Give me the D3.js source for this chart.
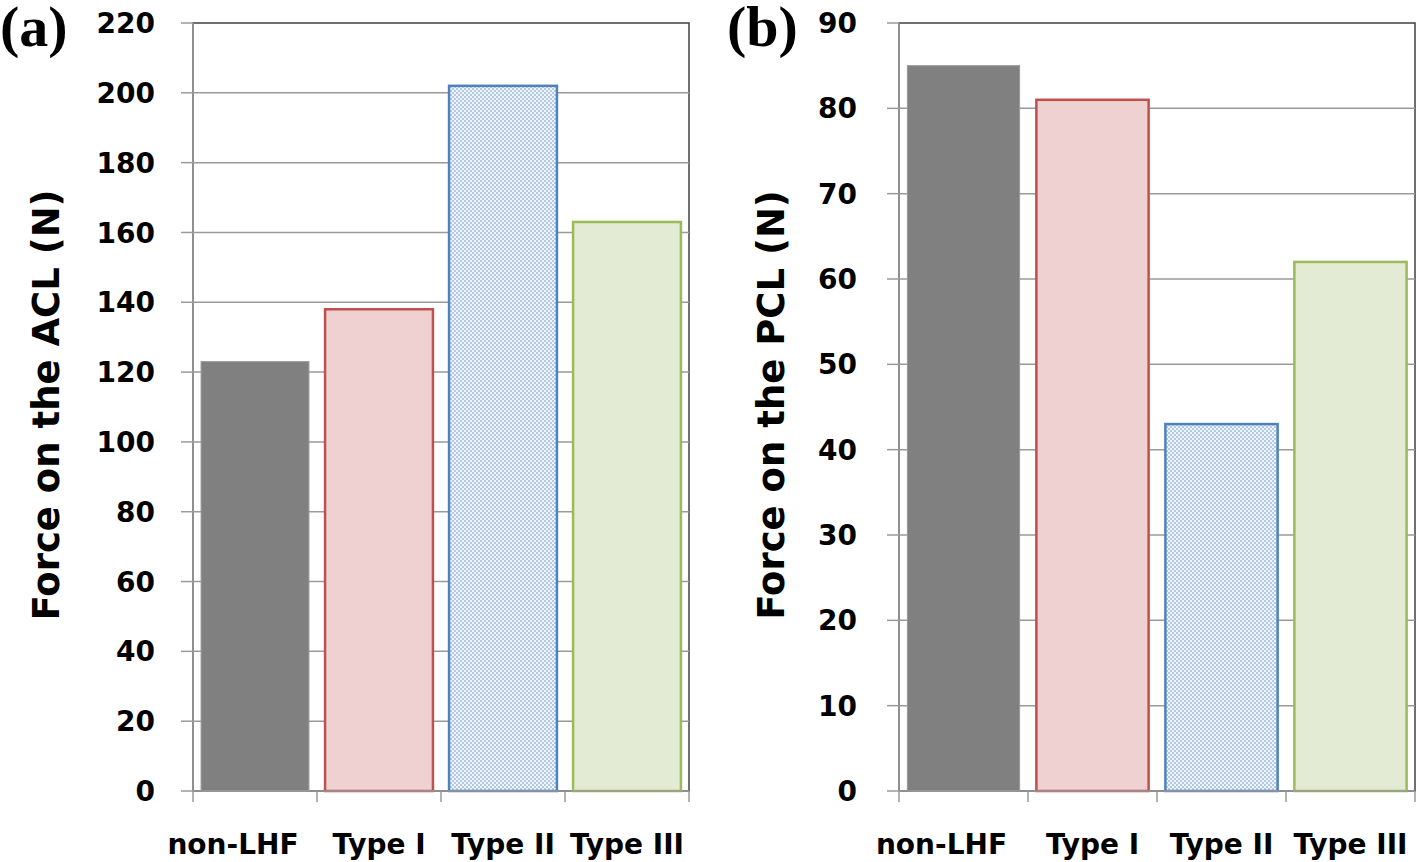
<!DOCTYPE html>
<meta charset="utf-8">
<head>
<style>
  body { margin: 0; background: #fff; }
  svg text { font-family: "DejaVu Sans", sans-serif; font-weight: bold; fill: #000; }
  .panel-tag { font-family: "Liberation Serif", "Times New Roman", serif; }
</style>
<script src="https://d3js.org/d3.v7.min.js"></script>
</head>
<body>
<svg id="chart" width="1418" height="862"></svg>
<script>
var categories = ["non-LHF", "Type I", "Type II", "Type III"];
var aclForce = [123, 138, 202, 163];
var pclForce = [85, 81, 43, 62];
var aclTicks = [0, 20, 40, 60, 80, 100, 120, 140, 160, 180, 200, 220];
var pclTicks = [0, 10, 20, 30, 40, 50, 60, 70, 80, 90];

var barFill = ["#808080", "#f0d1d2", "url(#check)", "#e3ebd4"];
var barStroke = ["#999999", "#c0504d", "#4f81bd", "#9bbb59"];
var barStrokeW = [1, 2.5, 2.5, 2.5];

var svg = d3.select("#chart");

// checker pattern for Type II
var pat = svg.append("defs").append("pattern")
    .attr("id", "check").attr("patternUnits", "userSpaceOnUse")
    .attr("width", 4).attr("height", 4);
pat.append("rect").attr("width", 4).attr("height", 4).attr("fill", "#f0f4fb");
pat.append("rect").attr("width", 2).attr("height", 2).attr("fill", "#b3c9e8");
pat.append("rect").attr("x", 2).attr("y", 2).attr("width", 2).attr("height", 2).attr("fill", "#b3c9e8");

var plotTop = 23, plotBottom = 791;

function drawPanel(opt) {
    var x = d3.scaleBand().domain(categories).range([opt.left, opt.right])
        .paddingInner(0.13).paddingOuter(0.065);
    var y = d3.scaleLinear().domain([0, opt.max]).range([plotBottom, plotTop]);
    var g = svg.append("g");

    // plot outline (top and right show dark)
    g.append("rect")
        .attr("x", opt.left).attr("y", plotTop)
        .attr("width", opt.right - opt.left).attr("height", plotBottom - plotTop)
        .attr("fill", "none").attr("stroke", "#404040").attr("stroke-width", 1.5);

    // gridlines + y ticks
    g.selectAll(".grid").data(opt.ticks.filter(function (d) { return d > 0 && d < opt.max; }))
        .enter().append("line")
        .attr("x1", opt.left).attr("x2", opt.right)
        .attr("y1", function (d) { return y(d); }).attr("y2", function (d) { return y(d); })
        .attr("stroke", "#9a9a9a").attr("stroke-width", 1.5);

    g.selectAll(".ytick").data(opt.ticks).enter().append("line")
        .attr("x1", opt.left - 12).attr("x2", opt.left)
        .attr("y1", function (d) { return y(d); }).attr("y2", function (d) { return y(d); })
        .attr("stroke", "#9a9a9a").attr("stroke-width", 1.5);

    g.selectAll(".ylab").data(opt.ticks).enter().append("text")
        .attr("x", opt.left - opt.labelGap)
        .attr("y", function (d) { return y(d); })
        .attr("dy", "0.36em")
        .attr("text-anchor", "end")
        .style("font-size", "28px")
        .text(function (d) { return d; });

    // bars
    g.selectAll(".bar").data(opt.values).enter().append("rect")
        .attr("x", function (d, i) { return x(categories[i]); })
        .attr("y", function (d) { return y(d); })
        .attr("width", x.bandwidth())
        .attr("height", function (d) { return y(0) - y(d); })
        .attr("fill", function (d, i) { return barFill[i]; })
        .attr("stroke", function (d, i) { return barStroke[i]; })
        .attr("stroke-width", function (d, i) { return barStrokeW[i]; });

    // axes
    g.append("line").attr("x1", opt.left).attr("x2", opt.left)
        .attr("y1", plotTop).attr("y2", plotBottom)
        .attr("stroke", "#9a9a9a").attr("stroke-width", 1.5);
    g.append("line").attr("x1", opt.left).attr("x2", opt.right)
        .attr("y1", plotBottom).attr("y2", plotBottom)
        .attr("stroke", "#9a9a9a").attr("stroke-width", 1.5);

    var n = categories.length;
    var edges = d3.range(n + 1).map(function (i) { return opt.left + i * (opt.right - opt.left) / n; });
    g.selectAll(".xtick").data(edges).enter().append("line")
        .attr("x1", function (d) { return d; }).attr("x2", function (d) { return d; })
        .attr("y1", plotBottom).attr("y2", plotBottom + 11)
        .attr("stroke", "#9a9a9a").attr("stroke-width", 1.5);

    g.selectAll(".xlab").data(categories).enter().append("text")
        .attr("x", function (d) { return x(d) + x.bandwidth() / 2; })
        .attr("dx", function (d, i) { return i === 0 ? -22 : 0; })
        .attr("y", 854)
        .attr("text-anchor", "middle")
        .style("font-size", "28px")
        .text(function (d) { return d; });

    // y title
    g.append("text")
        .attr("transform", "translate(" + opt.titleX + "," + 405 + ") rotate(-90)")
        .attr("text-anchor", "middle")
        .style("font-size", "37px")
        .text(opt.title);

    // panel tag
    g.append("text").attr("class", "panel-tag")
        .attr("x", opt.tagX).attr("y", 46)
        .style("font-size", "58px")
        .text(opt.tag);
}

drawPanel({ left: 193, right: 689, max: 220, ticks: aclTicks, values: aclForce,
    title: "Force on the ACL (N)", titleX: 59, tag: "(a)", tagX: 0, labelGap: 38 });
drawPanel({ left: 899, right: 1415, max: 90, ticks: pclTicks, values: pclForce,
    title: "Force on the PCL (N)", titleX: 784, tag: "(b)", tagX: 727, labelGap: 42 });
</script>
</body>
